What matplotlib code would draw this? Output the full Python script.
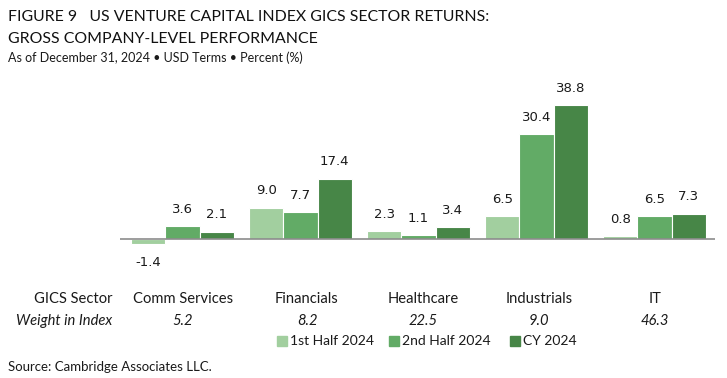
import numpy as np
import matplotlib
matplotlib.use("Agg")
from matplotlib import pyplot as plt
import matplotlib.patches as patches

sectors = ["Comm Services", "Financials", "Healthcare", "Industrials", "IT"]
weights = ["5.2", "8.2", "22.5", "9.0", "46.3"]
first_half = [-1.4, 9.0, 2.3, 6.5, 0.8]
second_half = [3.6, 7.7, 1.1, 30.4, 6.5]
cy_2024 = [2.1, 17.4, 3.4, 38.8, 7.3]
series_names = ["1st Half 2024", "2nd Half 2024", "CY 2024"]
colors = ["#a2cf9f", "#62ab66", "#478647"]

narrow = ["Lato", "DejaVu Sans"]
plain = ["DejaVu Sans"]
ink = "#1a1a1a"

fig = plt.figure(figsize=(7.27, 3.78), dpi=100)
ax = fig.add_axes([0.165, 0.2857, 0.818, 0.5026])

x = np.arange(len(sectors))
w = 0.29
for k, vals in enumerate([first_half, second_half, cy_2024]):
    xs = x + (k - 1) * w
    ax.bar(xs, vals, width=w, color=colors[k], edgecolor="white", linewidth=0.8)
    for xi, v in zip(xs, vals):
        if v >= 0:
            ax.text(xi, v + 3, "%.1f" % v, ha="center", va="bottom", fontsize=9.5,
                    family=plain, color=ink)
        else:
            ax.text(xi, v - 3.5, "%.1f" % v, ha="center", va="top", fontsize=9.5,
                    family=plain, color=ink)

ax.axhline(0, color="#8c8c8c", linewidth=1.2)
ax.set_xlim(-0.53, 4.51)
ax.set_ylim(-9, 46)
ax.axis("off")

# table rows below the chart
row1 = 1 - 299 / 378
row2 = 1 - 321 / 378
label_x = [183, 307, 423, 539, 655]
for lx, s, wt in zip(label_x, sectors, weights):
    fig.text(lx / 727, row1, s, ha="center", va="center", fontsize=10.6, family=narrow, color=ink)
    fig.text(lx / 727, row2, wt, ha="center", va="center", fontsize=10.6, family=narrow,
             style="italic", color=ink)
fig.text(112 / 727, row1, "GICS Sector", ha="right", va="center", fontsize=10.6,
         family=narrow, color=ink)
fig.text(112 / 727, row2, "Weight in Index", ha="right", va="center", fontsize=10.6,
         family=narrow, style="italic", color=ink)

# legend
legy = 1 - 341 / 378
for lx, name, c in zip([277, 389, 510], series_names, colors):
    fig.patches.append(patches.Rectangle((lx / 727, legy - 5 / 378), 10 / 727, 10 / 378,
                                         transform=fig.transFigure, color=c))
    fig.text((lx + 13) / 727, legy, name, ha="left", va="center", fontsize=10,
             family=narrow, color=ink)

fig.text(8 / 727, 1 - 367 / 378, "Source: Cambridge Associates LLC.", ha="left", va="center",
         fontsize=9.5, family=narrow, color=ink)

# titles
fig.text(8 / 727, 1 - 17 / 378, "FIGURE 9   US VENTURE CAPITAL INDEX GICS SECTOR RETURNS:",
         ha="left", va="center", fontsize=11.4, family=narrow, color="#111111")
fig.text(8 / 727, 1 - 39 / 378, "GROSS COMPANY-LEVEL PERFORMANCE",
         ha="left", va="center", fontsize=11.4, family=narrow, color="#111111")
fig.text(8 / 727, 1 - 58 / 378, "As of December 31, 2024 \u2022 USD Terms \u2022 Percent (%)",
         ha="left", va="center", fontsize=9, family=narrow, color=ink)

fig.savefig("out.png", dpi=100)
